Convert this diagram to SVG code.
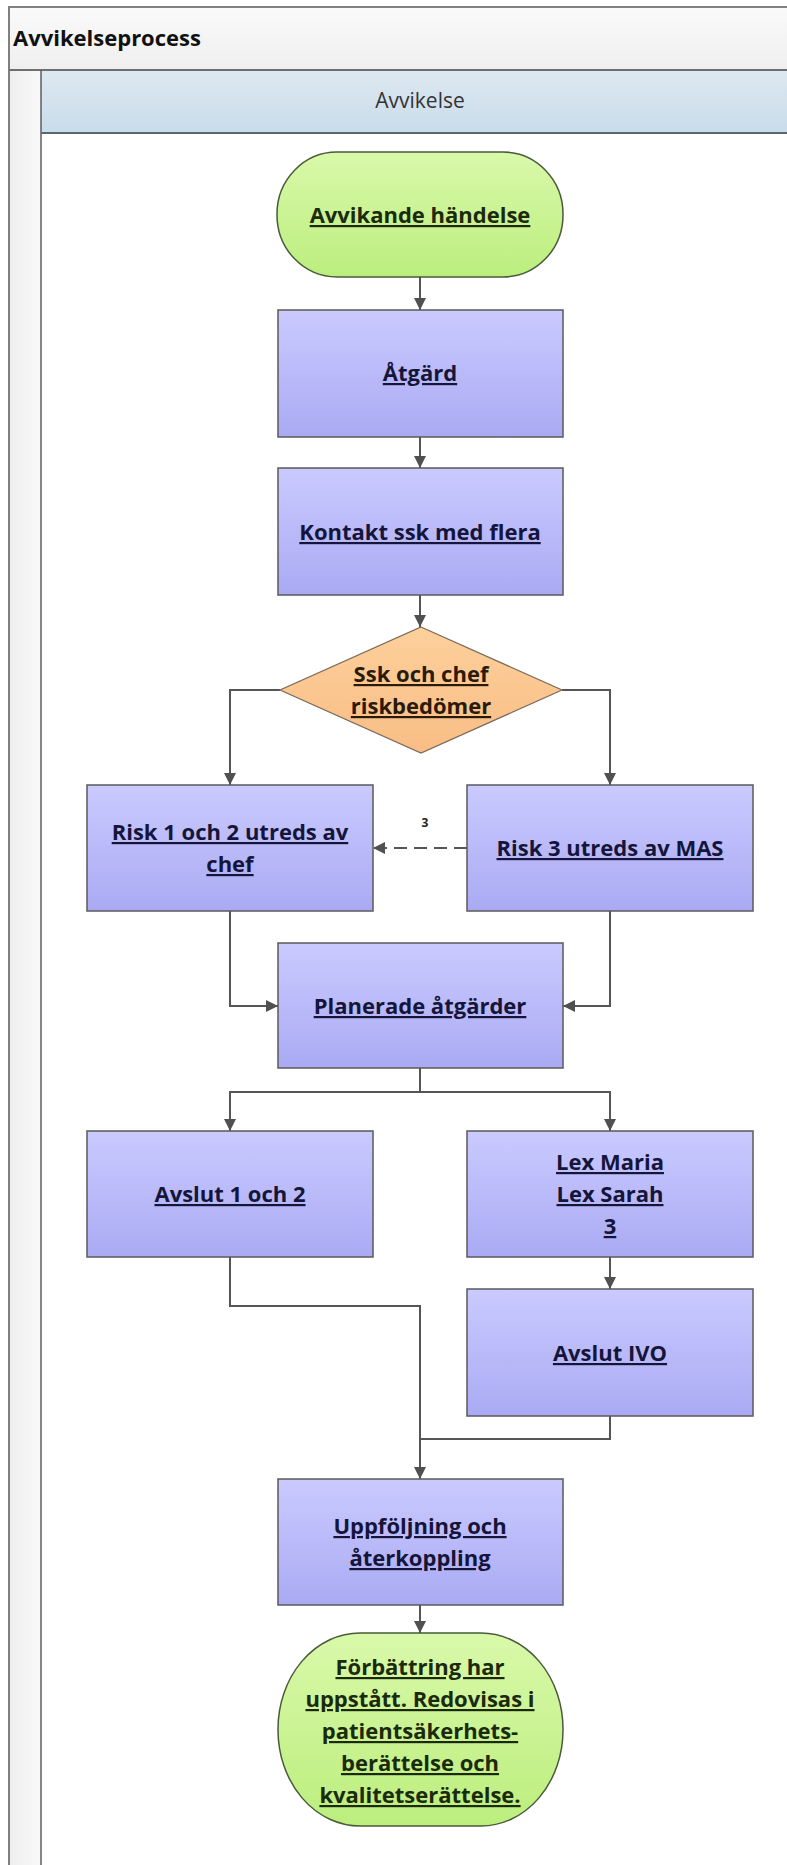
<svg xmlns="http://www.w3.org/2000/svg" width="787" height="1865" viewBox="0 0 787 1865">
<defs>
<linearGradient id="gBox" x1="0" y1="0" x2="0" y2="1"><stop offset="0" stop-color="#cacaff"/><stop offset="1" stop-color="#aaaaf4"/></linearGradient>
<linearGradient id="gTerm" x1="0" y1="0" x2="0" y2="1"><stop offset="0" stop-color="#d9f9aa"/><stop offset="1" stop-color="#bcee7e"/></linearGradient>
<linearGradient id="gDia" x1="0" y1="0" x2="0" y2="1"><stop offset="0" stop-color="#fdd09c"/><stop offset="1" stop-color="#f9bd85"/></linearGradient>
<linearGradient id="gTitle" x1="0" y1="0" x2="0" y2="1"><stop offset="0" stop-color="#fafafa"/><stop offset="1" stop-color="#efefef"/></linearGradient>
<linearGradient id="gHead" x1="0" y1="0" x2="0" y2="1"><stop offset="0" stop-color="#dde8f1"/><stop offset="1" stop-color="#c9dcea"/></linearGradient>
<linearGradient id="gStrip" x1="0" y1="0" x2="1" y2="0"><stop offset="0" stop-color="#eeeeee"/><stop offset="1" stop-color="#f9f9f9"/></linearGradient>
<marker id="arr" markerUnits="userSpaceOnUse" markerWidth="12" markerHeight="12" refX="12" refY="6" orient="auto"><path d="M0,0 L12,6 L0,12 z" fill="#505050"/></marker>
</defs>
<style>
.box{fill:url(#gBox);stroke:#5a5a5a;stroke-width:1.5}
.term{fill:url(#gTerm);stroke:#4a5a3a;stroke-width:1.5}
.dia{fill:url(#gDia);stroke:#7a6a5a;stroke-width:1.2}
.t{font-family:"Open Sans","Liberation Sans",sans-serif;font-weight:bold;font-size:22px;text-anchor:middle;text-decoration:underline;fill:#15153a}
.tg{fill:#1c2a0c}
.td{fill:#2a1a0a}
.c{fill:none;stroke:#555555;stroke-width:2}
.ca{fill:none;stroke:#555555;stroke-width:2;marker-end:url(#arr)}
</style>
<g id="frame">
<rect x="9" y="7" width="790" height="1870" fill="#ffffff"/>
<rect x="9" y="7" width="790" height="63" fill="url(#gTitle)"/>
<rect x="9" y="70" width="32" height="1800" fill="url(#gStrip)"/>
<rect x="41" y="70" width="760" height="63" fill="url(#gHead)"/>
<line x1="9" y1="7" x2="787" y2="7" stroke="#808080" stroke-width="2"/>
<line x1="9" y1="6" x2="9" y2="1865" stroke="#808080" stroke-width="2"/>
<line x1="9" y1="70" x2="787" y2="70" stroke="#6e6e6e" stroke-width="2"/>
<line x1="41" y1="70" x2="41" y2="1865" stroke="#5e5e5e" stroke-width="1.5"/>
<line x1="41" y1="133" x2="787" y2="133" stroke="#5e6670" stroke-width="2"/>
<text x="13" y="46" font-family="Open Sans,Liberation Sans,sans-serif" font-weight="bold" font-size="22" fill="#111">Avvikelseprocess</text>
<text x="420" y="108" font-family="Open Sans,Liberation Sans,sans-serif" font-size="21" fill="#333" text-anchor="middle">Avvikelse</text>
</g>
<g id="connectors">
<line class="ca" x1="420" y1="277" x2="420" y2="310"/>
<line class="ca" x1="420" y1="437" x2="420" y2="468"/>
<line class="ca" x1="420" y1="595" x2="420" y2="627"/>
<polyline class="ca" points="280,690 230,690 230,785"/>
<polyline class="ca" points="562,690 610,690 610,785"/>
<line class="ca" x1="467" y1="848" x2="373" y2="848" stroke-dasharray="13 7"/>
<text x="425" y="827" font-family="Open Sans,Liberation Sans,sans-serif" font-weight="bold" font-size="12" fill="#222" text-anchor="middle">3</text>
<polyline class="ca" points="230,911 230,1006 278,1006"/>
<polyline class="ca" points="610,911 610,1006 563,1006"/>
<polyline class="c" points="420,1068 420,1092"/>
<polyline class="ca" points="420,1092 230,1092 230,1131"/>
<polyline class="ca" points="420,1092 610,1092 610,1131"/>
<line class="ca" x1="610" y1="1257" x2="610" y2="1289"/>
<polyline class="ca" points="230,1257 230,1306 420,1306 420,1479"/>
<polyline class="c" points="610,1416 610,1439 420,1439"/>
<line class="ca" x1="420" y1="1605" x2="420" y2="1633"/>
</g>
<g id="n-start">
<rect class="term" x="277" y="152" width="286" height="125" rx="60" ry="62"/>
<text class="t tg" x="420" y="223">Avvikande händelse</text>
</g>
<g id="n-atgard">
<rect class="box" x="278" y="310" width="285" height="127"/>
<text class="t" x="420" y="381">Åtgärd</text>
</g>
<g id="n-kontakt">
<rect class="box" x="278" y="468" width="285" height="127"/>
<text class="t" x="420" y="540">Kontakt ssk med flera</text>
</g>
<g id="n-risk">
<polygon class="dia" points="421,627 562,690 421,753 280,690"/>
<text class="t td" x="421" y="682">Ssk och chef</text>
<text class="t td" x="421" y="714">riskbedömer</text>
</g>
<g id="n-risk12">
<rect class="box" x="87" y="785" width="286" height="126"/>
<text class="t" x="230" y="840">Risk 1 och 2 utreds av</text>
<text class="t" x="230" y="872">chef</text>
</g>
<g id="n-risk3">
<rect class="box" x="467" y="785" width="286" height="126"/>
<text class="t" x="610" y="856">Risk 3 utreds av MAS</text>
</g>
<g id="n-planerade">
<rect class="box" x="278" y="943" width="285" height="125"/>
<text class="t" x="420" y="1014">Planerade åtgärder</text>
</g>
<g id="n-avslut12">
<rect class="box" x="87" y="1131" width="286" height="126"/>
<text class="t" x="230" y="1202">Avslut 1 och 2</text>
</g>
<g id="n-lex">
<rect class="box" x="467" y="1131" width="286" height="126"/>
<text class="t" x="610" y="1170">Lex Maria</text>
<text class="t" x="610" y="1202">Lex Sarah</text>
<text class="t" x="610" y="1234">3</text>
</g>
<g id="n-ivo">
<rect class="box" x="467" y="1289" width="286" height="127"/>
<text class="t" x="610" y="1361">Avslut IVO</text>
</g>
<g id="n-uppfoljning">
<rect class="box" x="278" y="1479" width="285" height="126"/>
<text class="t" x="420" y="1534">Uppföljning och</text>
<text class="t" x="420" y="1566">återkoppling</text>
</g>
<g id="n-end">
<rect class="term" x="278" y="1633" width="285" height="193" rx="82" ry="96"/>
<text class="t tg" x="420" y="1675">Förbättring har</text>
<text class="t tg" x="420" y="1707">uppstått. Redovisas i</text>
<text class="t tg" x="420" y="1739">patientsäkerhets-</text>
<text class="t tg" x="420" y="1771">berättelse och</text>
<text class="t tg" x="420" y="1803">kvalitetserättelse.</text>
</g>
</svg>
